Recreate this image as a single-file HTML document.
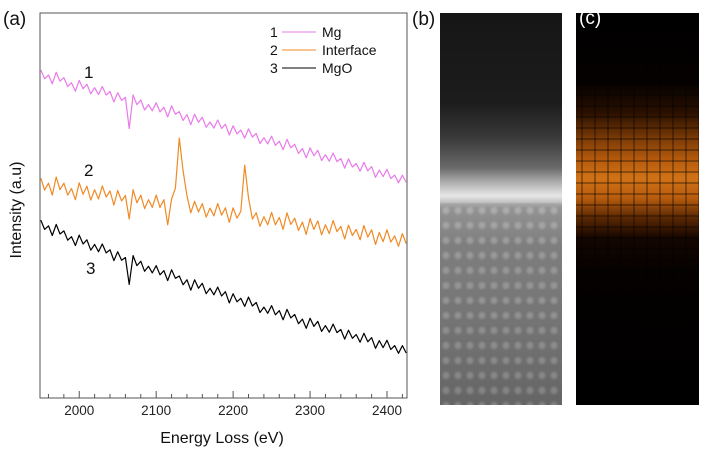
<!DOCTYPE html>
<html><head><meta charset="utf-8"><style>
body{margin:0;background:#fff;}
#wrap{position:relative;width:705px;height:452px;overflow:hidden;background:#fff;font-family:"Liberation Sans",sans-serif;}
svg text{font-family:"Liberation Sans",sans-serif;}
#imgb{position:absolute;left:440px;top:13px;width:122px;height:392px;
background:linear-gradient(to bottom,#161616 0px,#1c1c1c 90px,#3a3a3a 125px,#6a6a6a 155px,#a8a8a8 168px,#dcdcdc 180px,#e6e6e6 183px,#a0a0a0 195px,#8a8a8a 230px,#7c7c7c 320px,#6e6e6e 392px);}
#latt{position:absolute;left:0;top:190px;width:122px;height:202px;
background:radial-gradient(circle at 50% 50%, rgba(255,255,255,0.16) 0, rgba(255,255,255,0.12) 2px, rgba(0,0,0,0.08) 5px) 0 0/12px 15px repeat;}
#imgc{position:absolute;left:576px;top:13px;width:123px;height:392px;
background:
repeating-linear-gradient(to right,rgba(0,0,0,0) 0,rgba(0,0,0,0) 5px,rgba(0,0,0,0.3) 5px,rgba(0,0,0,0.3) 7px,rgba(0,0,0,0) 7px,rgba(0,0,0,0) 13px),
repeating-linear-gradient(to bottom,rgba(0,0,0,0) 0,rgba(0,0,0,0) 4px,rgba(0,0,0,0.3) 4px,rgba(0,0,0,0.3) 6px,rgba(0,0,0,0) 6px,rgba(0,0,0,0) 11px),
linear-gradient(to bottom,#000 0,#050100 70px,#2a1000 100px,#7a3a06 125px,#b85c0e 148px,#d07216 165px,#b85c0e 185px,#5a2803 205px,#150600 225px,#040100 260px,#000 392px);}
</style></head><body>
<div id="wrap">
<svg id="chart" width="705" height="452" style="position:absolute;left:0;top:0"></svg>
<div id="imgb"><div id="latt"></div></div>
<div id="imgc"></div>
<div style="position:absolute;left:579px;top:8px;font-size:19px;color:#fff">(c)</div>
</div>
<script>
const energyStart = 1950, energyStep = 5;
const xTicks = [2000, 2100, 2200, 2300, 2400];
const mgValues = [85.2,82.9,83.9,81.6,84.6,82.3,83.2,80.9,81.9,79.7,82.5,80.3,81.5,79.0,80.6,78.8,80.9,78.7,79.6,76.9,79.3,77.3,78.1,70.0,78.7,76.2,77.4,74.8,76.2,74.6,76.7,74.3,75.5,73.0,75.9,73.7,74.4,72.1,73.6,71.0,73.7,71.6,72.9,70.3,71.7,70.1,72.2,70.0,71.1,68.3,70.7,68.6,69.6,67.5,69.9,67.8,68.7,66.1,67.6,66.0,68.0,65.6,66.7,64.5,67.2,65.0,65.9,63.5,64.8,62.4,65.0,62.9,64.3,61.7,63.2,61.5,63.6,61.4,62.2,59.7,62.1,60.0,60.9,58.9,61.2,59.0,60.1,57.3,59.2,57.5,59.4,57.0,57.9,55.9,57.9,56.0];
const interfaceValues = [57.1,54.0,55.8,52.7,57.4,54.1,55.8,52.7,54.4,51.5,55.9,52.9,55.0,51.4,54.1,51.7,55.1,52.2,53.8,50.1,53.9,51.2,52.6,46.5,54.1,50.7,52.7,49.2,51.5,49.5,52.7,49.5,51.5,45.0,51.7,54.5,67.5,59.0,52.5,48.1,51.1,48.3,50.5,47.0,49.3,47.3,50.5,47.5,49.4,45.6,49.4,46.7,48.5,60.5,52.0,46.5,48.1,44.6,47.1,45.0,48.2,45.0,46.9,43.8,48.1,45.1,46.7,43.5,45.7,42.5,46.6,43.8,46.0,42.4,45.0,42.7,46.1,43.2,44.6,41.3,44.9,42.2,43.8,41.1,44.8,41.8,43.7,39.9,43.0,40.6,43.7,40.5,42.1,39.4,42.7,40.1];
const mgoValues = [46.2,43.8,44.7,42.2,45.1,42.6,43.4,41.0,41.9,39.6,42.3,40.0,41.1,38.4,39.9,38.0,40.0,37.7,38.5,35.7,38.0,35.8,36.5,29.5,37.0,34.4,35.5,32.9,34.2,32.5,34.4,32.0,33.1,30.5,33.3,31.1,31.7,29.4,30.7,28.0,30.7,28.5,29.8,27.1,28.5,26.8,28.8,26.5,27.6,24.7,27.1,25.0,25.9,23.8,26.2,23.9,24.8,22.2,23.6,22.0,24.0,21.6,22.7,20.3,23.0,20.8,21.7,19.3,20.5,18.1,20.7,18.6,19.9,17.3,18.8,17.1,19.2,17.0,17.8,15.3,17.6,15.5,16.5,14.5,16.8,14.6,15.7,12.9,14.9,13.1,15.0,12.6,13.6,11.6,13.6,11.7];
const seriesNames = ["Mg", "Interface", "MgO"];

const NS = "http://www.w3.org/2000/svg";
const svg = document.getElementById('chart');
const L = 40, R = 407, T = 13, B = 398;
const xMin = 1949, xMax = 2426, yMin = 0, yMax = 100;
function xs(v){ return L + (v - xMin) / (xMax - xMin) * (R - L); }
function ys(v){ return B - (v - yMin) / (yMax - yMin) * (B - T); }
function mk(tag, attrs){ const e = document.createElementNS(NS, tag); for (const k in attrs) e.setAttribute(k, attrs[k]); svg.appendChild(e); return e; }

const frame = mk('rect', {x:L, y:T, width:R-L, height:B-T, fill:'none', stroke:'#555', 'stroke-width':1});



for (let e = 1960; e <= 2420; e += 20) {
  const major = e % 100 === 0;
  const t = mk('line', {x1:xs(e), x2:xs(e), y1:B, y2:B-(major?7:4), stroke:'#555', 'stroke-width':1});
  
  
}
xTicks.forEach(v => {
  const t = mk('text', {x:xs(v), y:B+17, 'text-anchor':'middle', 'font-size':13.5, fill:'#222'});
  t.textContent = v;
  
  
});

function drawSeries(vals, color, name){
  let d = '';
  vals.forEach((v, i) => { d += (i ? 'L' : 'M') + xs(energyStart + i*energyStep).toFixed(1) + ' ' + ys(v).toFixed(1); });
  const p = mk('path', {d:d, fill:'none', stroke:color, 'stroke-width':1.2, 'stroke-linejoin':'round'});
  
  
}
drawSeries(mgValues, '#e97ae9', 'mg-spectrum');
drawSeries(interfaceValues, '#f08a24', 'interface-spectrum');
drawSeries(mgoValues, '#000', 'mgo-spectrum');

function txt(x, y, s, size, name, anchor){
  const t = mk('text', {x:x, y:y, 'font-size':size, fill:'#111', 'text-anchor':anchor||'start'});
  t.textContent = s;
  
  
  return t;
}
txt(3, 25, '(a)', 19, 'panel-label-a');
txt(412, 25, '(b)', 19, 'panel-label-b');
txt(84, 78, '1', 17, 'curve-label-1');
txt(84, 176, '2', 17, 'curve-label-2');
txt(86, 274, '3', 17, 'curve-label-3');
txt(222, 443, 'Energy Loss (eV)', 16, 'x-axis-title', 'middle');
const yt = txt(0, 0, 'Intensity (a.u)', 16, 'y-axis-title', 'middle');
yt.setAttribute('transform', 'translate(21,210) rotate(-90)');

const legColors = ['#e97ae9', '#f08a24', '#000'];
seriesNames.forEach((n, i) => {
  const y = 32 + i*18;
  txt(270, y+5, String(i+1), 14, 'legend-number');
  const ln = mk('line', {x1:282, x2:316, y1:y, y2:y, stroke:legColors[i], 'stroke-width':1.1});
  
  
  txt(322, y+5, n, 14, 'legend-entry');
});
</script>
</body></html>
